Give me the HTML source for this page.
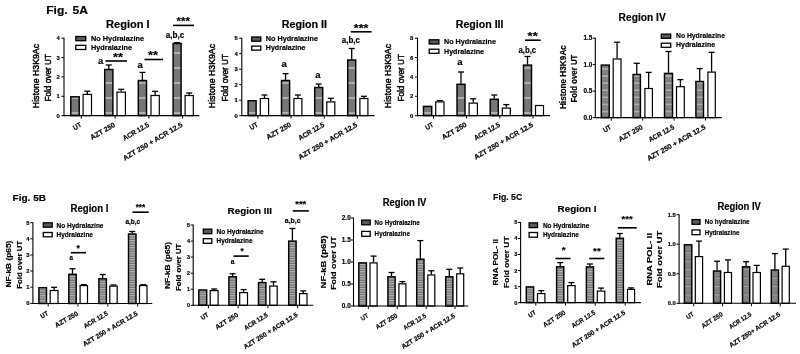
<!DOCTYPE html>
<html><head><meta charset="utf-8"><title>Fig 5</title>
<style>html,body{margin:0;padding:0;background:#fff;}svg{display:block;font-family:"Liberation Sans",sans-serif;fill:#000;}text{stroke:#000;stroke-width:0.18px;}</style>
</head><body>
<svg width="800" height="354" viewBox="0 0 800 354">
<defs>
<pattern id="p1" width="10" height="15" patternUnits="userSpaceOnUse"><rect width="10" height="15" fill="#777"/><rect y="7" width="10" height="2" fill="#a0a0a0"/><rect y="7.6" width="10" height="0.8" fill="#c4c4c4"/></pattern>
<pattern id="p2" width="10" height="2.4" patternUnits="userSpaceOnUse"><rect width="10" height="2.4" fill="#707070"/><rect y="0" width="10" height="1.15" fill="#b6b6b6"/></pattern>
<pattern id="p4" width="10" height="8.4" patternUnits="userSpaceOnUse" patternTransform="translate(0 0.5)"><rect width="10" height="8.4" fill="#787878"/><rect y="0" width="10" height="1.1" fill="#a6a6a6"/><rect y="2.4" width="10" height="1" fill="#8e8e8e"/><rect y="4.8" width="10" height="1" fill="#8e8e8e"/></pattern>
<pattern id="p3" width="10" height="7.1" patternUnits="userSpaceOnUse" patternTransform="translate(0 1.5)"><rect width="10" height="7.1" fill="#7e7e7e"/><rect y="3" width="10" height="1.2" fill="#c0c0c0"/><rect y="6.4" width="10" height="0.7" fill="#909090"/></pattern>
<filter id="soft" x="0" y="0" width="800" height="354" filterUnits="userSpaceOnUse" color-interpolation-filters="sRGB"><feGaussianBlur stdDeviation="0.48"/></filter>
</defs>
<rect width="800" height="354" fill="#fff"/>
<g filter="url(#soft)">
<rect x="70.80" y="96.80" width="8.40" height="18.80" fill="url(#p1)" stroke="#000" stroke-width="1.45"/>
<line x1="87.30" y1="93.90" x2="87.30" y2="91.20" stroke="#000" stroke-width="1.3"/>
<line x1="84.30" y1="91.20" x2="90.30" y2="91.20" stroke="#000" stroke-width="1.3"/>
<rect x="83.10" y="94.40" width="8.40" height="21.20" fill="#fff" stroke="#000" stroke-width="1.2"/>
<line x1="108.80" y1="69.00" x2="108.80" y2="65.00" stroke="#000" stroke-width="1.3"/>
<line x1="105.80" y1="65.00" x2="111.80" y2="65.00" stroke="#000" stroke-width="1.3"/>
<rect x="104.70" y="69.50" width="8.20" height="46.10" fill="url(#p1)" stroke="#000" stroke-width="1.45"/>
<line x1="121.20" y1="91.60" x2="121.20" y2="89.30" stroke="#000" stroke-width="1.3"/>
<line x1="118.20" y1="89.30" x2="124.20" y2="89.30" stroke="#000" stroke-width="1.3"/>
<rect x="117.00" y="92.10" width="8.40" height="23.50" fill="#fff" stroke="#000" stroke-width="1.2"/>
<line x1="142.40" y1="80.00" x2="142.40" y2="72.40" stroke="#000" stroke-width="1.3"/>
<line x1="139.40" y1="72.40" x2="145.40" y2="72.40" stroke="#000" stroke-width="1.3"/>
<rect x="138.30" y="80.50" width="8.20" height="35.10" fill="url(#p1)" stroke="#000" stroke-width="1.45"/>
<line x1="155.15" y1="95.00" x2="155.15" y2="91.30" stroke="#000" stroke-width="1.3"/>
<line x1="152.15" y1="91.30" x2="158.15" y2="91.30" stroke="#000" stroke-width="1.3"/>
<rect x="151.00" y="95.50" width="8.30" height="20.10" fill="#fff" stroke="#000" stroke-width="1.2"/>
<line x1="177.10" y1="43.00" x2="177.10" y2="42.60" stroke="#000" stroke-width="1.3"/>
<line x1="174.10" y1="42.60" x2="180.10" y2="42.60" stroke="#000" stroke-width="1.3"/>
<rect x="173.10" y="43.50" width="8.00" height="72.10" fill="url(#p1)" stroke="#000" stroke-width="1.45"/>
<line x1="189.20" y1="95.00" x2="189.20" y2="93.00" stroke="#000" stroke-width="1.3"/>
<line x1="186.20" y1="93.00" x2="192.20" y2="93.00" stroke="#000" stroke-width="1.3"/>
<rect x="185.10" y="95.50" width="8.20" height="20.10" fill="#fff" stroke="#000" stroke-width="1.2"/>
<line x1="64.00" y1="37.70" x2="64.00" y2="116.10" stroke="#000" stroke-width="1.1"/>
<line x1="63.50" y1="115.60" x2="199.30" y2="115.60" stroke="#000" stroke-width="1.1"/>
<line x1="61.40" y1="38.20" x2="64.00" y2="38.20" stroke="#000" stroke-width="1.0"/>
<text x="59.90" y="40.29" font-size="5.9" font-weight="bold" text-anchor="end">4</text>
<line x1="61.40" y1="57.60" x2="64.00" y2="57.60" stroke="#000" stroke-width="1.0"/>
<text x="59.90" y="59.69" font-size="5.9" font-weight="bold" text-anchor="end">3</text>
<line x1="61.40" y1="76.90" x2="64.00" y2="76.90" stroke="#000" stroke-width="1.0"/>
<text x="59.90" y="78.99" font-size="5.9" font-weight="bold" text-anchor="end">2</text>
<line x1="61.40" y1="96.30" x2="64.00" y2="96.30" stroke="#000" stroke-width="1.0"/>
<text x="59.90" y="98.39" font-size="5.9" font-weight="bold" text-anchor="end">1</text>
<line x1="61.40" y1="115.60" x2="64.00" y2="115.60" stroke="#000" stroke-width="1.0"/>
<text x="59.90" y="117.69" font-size="5.9" font-weight="bold" text-anchor="end">0</text>
<line x1="81.30" y1="115.60" x2="81.30" y2="118.60" stroke="#000" stroke-width="1.0"/>
<line x1="115.10" y1="115.60" x2="115.10" y2="118.60" stroke="#000" stroke-width="1.0"/>
<line x1="148.90" y1="115.60" x2="148.90" y2="118.60" stroke="#000" stroke-width="1.0"/>
<line x1="182.60" y1="115.60" x2="182.60" y2="118.60" stroke="#000" stroke-width="1.0"/>
<text x="0" y="0" transform="translate(80.70 124.00) rotate(-30.5)" font-size="7.1" font-weight="bold" text-anchor="end" textLength="8.40" lengthAdjust="spacingAndGlyphs" dy="0.35em">UT</text>
<text x="0" y="0" transform="translate(114.50 124.00) rotate(-30.5)" font-size="7.1" font-weight="bold" text-anchor="end" textLength="27.50" lengthAdjust="spacingAndGlyphs" dy="0.35em">AZT 250</text>
<text x="0" y="0" transform="translate(148.30 124.00) rotate(-30.5)" font-size="7.1" font-weight="bold" text-anchor="end" textLength="29.00" lengthAdjust="spacingAndGlyphs" dy="0.35em">ACR 12.5</text>
<text x="0" y="0" transform="translate(182.00 124.00) rotate(-30.5)" font-size="7.1" font-weight="bold" text-anchor="end" textLength="68.00" lengthAdjust="spacingAndGlyphs" dy="0.35em">AZT 250 + ACR 12.5</text>
<text x="106.10" y="28.40" font-size="10" font-weight="bold" text-anchor="start" textLength="43.60" lengthAdjust="spacingAndGlyphs">Region I</text>
<rect x="75.80" y="36.50" width="10.00" height="4.20" fill="#5a5a5a" stroke="#000" stroke-width="1.3"/>
<rect x="75.80" y="45.30" width="10.00" height="4.20" fill="#fff" stroke="#000" stroke-width="1.3"/>
<text x="91.00" y="40.94" font-size="6.5" font-weight="bold" text-anchor="start" textLength="53.00" lengthAdjust="spacingAndGlyphs">No Hydralazine</text>
<text x="91.00" y="49.74" font-size="6.5" font-weight="bold" text-anchor="start" textLength="41.00" lengthAdjust="spacingAndGlyphs">Hydralazine</text>
<text transform="translate(39.15 108.20) rotate(-90)" font-size="9.3" style="stroke-width:0.45px" textLength="64.30" lengthAdjust="spacingAndGlyphs">Histone H3K9Ac</text>
<text transform="translate(50.95 101.60) rotate(-90)" font-size="9.3" style="stroke-width:0.45px" textLength="47.70" lengthAdjust="spacingAndGlyphs">Fold over UT</text>
<line x1="105.50" y1="61.00" x2="127.00" y2="61.00" stroke="#000" stroke-width="1.6"/>
<text x="118.00" y="61.24" font-size="11" font-weight="bold" text-anchor="middle" textLength="10.00" lengthAdjust="spacingAndGlyphs">**</text>
<line x1="144.50" y1="59.50" x2="163.00" y2="59.50" stroke="#000" stroke-width="1.6"/>
<text x="153.00" y="59.24" font-size="11" font-weight="bold" text-anchor="middle" textLength="10.00" lengthAdjust="spacingAndGlyphs">**</text>
<line x1="173.00" y1="25.40" x2="194.00" y2="25.40" stroke="#000" stroke-width="1.6"/>
<text x="183.30" y="24.64" font-size="11" font-weight="bold" text-anchor="middle" textLength="13.40" lengthAdjust="spacingAndGlyphs">***</text>
<text x="98.00" y="64.30" font-size="9.4" font-weight="bold" text-anchor="start" textLength="5.30" lengthAdjust="spacingAndGlyphs">a</text>
<text x="137.50" y="68.30" font-size="9.4" font-weight="bold" text-anchor="start" textLength="5.30" lengthAdjust="spacingAndGlyphs">a</text>
<text x="165.80" y="37.70" font-size="8.3" font-weight="bold" text-anchor="start" textLength="18.60" lengthAdjust="spacingAndGlyphs">a,b,c</text>
<rect x="248.10" y="100.70" width="8.00" height="14.90" fill="url(#p1)" stroke="#000" stroke-width="1.45"/>
<line x1="264.45" y1="98.00" x2="264.45" y2="95.00" stroke="#000" stroke-width="1.3"/>
<line x1="261.45" y1="95.00" x2="267.45" y2="95.00" stroke="#000" stroke-width="1.3"/>
<rect x="260.30" y="98.50" width="8.30" height="17.10" fill="#fff" stroke="#000" stroke-width="1.2"/>
<line x1="285.55" y1="80.00" x2="285.55" y2="73.60" stroke="#000" stroke-width="1.3"/>
<line x1="282.55" y1="73.60" x2="288.55" y2="73.60" stroke="#000" stroke-width="1.3"/>
<rect x="281.50" y="80.50" width="8.10" height="35.10" fill="url(#p1)" stroke="#000" stroke-width="1.45"/>
<line x1="297.90" y1="98.00" x2="297.90" y2="95.00" stroke="#000" stroke-width="1.3"/>
<line x1="294.90" y1="95.00" x2="300.90" y2="95.00" stroke="#000" stroke-width="1.3"/>
<rect x="293.90" y="98.50" width="8.00" height="17.10" fill="#fff" stroke="#000" stroke-width="1.2"/>
<line x1="318.70" y1="87.00" x2="318.70" y2="84.00" stroke="#000" stroke-width="1.3"/>
<line x1="315.70" y1="84.00" x2="321.70" y2="84.00" stroke="#000" stroke-width="1.3"/>
<rect x="314.70" y="87.50" width="8.00" height="28.10" fill="url(#p1)" stroke="#000" stroke-width="1.45"/>
<line x1="330.80" y1="101.40" x2="330.80" y2="98.30" stroke="#000" stroke-width="1.3"/>
<line x1="327.80" y1="98.30" x2="333.80" y2="98.30" stroke="#000" stroke-width="1.3"/>
<rect x="326.80" y="101.90" width="8.00" height="13.70" fill="#fff" stroke="#000" stroke-width="1.2"/>
<line x1="351.70" y1="59.50" x2="351.70" y2="48.50" stroke="#000" stroke-width="1.3"/>
<line x1="348.70" y1="48.50" x2="354.70" y2="48.50" stroke="#000" stroke-width="1.3"/>
<rect x="347.70" y="60.00" width="8.00" height="55.60" fill="url(#p1)" stroke="#000" stroke-width="1.45"/>
<line x1="363.90" y1="98.00" x2="363.90" y2="96.30" stroke="#000" stroke-width="1.3"/>
<line x1="360.90" y1="96.30" x2="366.90" y2="96.30" stroke="#000" stroke-width="1.3"/>
<rect x="359.90" y="98.50" width="8.00" height="17.10" fill="#fff" stroke="#000" stroke-width="1.2"/>
<line x1="241.80" y1="37.70" x2="241.80" y2="116.10" stroke="#000" stroke-width="1.1"/>
<line x1="241.30" y1="115.60" x2="374.60" y2="115.60" stroke="#000" stroke-width="1.1"/>
<line x1="239.20" y1="38.20" x2="241.80" y2="38.20" stroke="#000" stroke-width="1.0"/>
<text x="237.70" y="40.29" font-size="5.9" font-weight="bold" text-anchor="end">5</text>
<line x1="239.20" y1="53.70" x2="241.80" y2="53.70" stroke="#000" stroke-width="1.0"/>
<text x="237.70" y="55.79" font-size="5.9" font-weight="bold" text-anchor="end">4</text>
<line x1="239.20" y1="69.20" x2="241.80" y2="69.20" stroke="#000" stroke-width="1.0"/>
<text x="237.70" y="71.29" font-size="5.9" font-weight="bold" text-anchor="end">3</text>
<line x1="239.20" y1="84.70" x2="241.80" y2="84.70" stroke="#000" stroke-width="1.0"/>
<text x="237.70" y="86.79" font-size="5.9" font-weight="bold" text-anchor="end">2</text>
<line x1="239.20" y1="100.20" x2="241.80" y2="100.20" stroke="#000" stroke-width="1.0"/>
<text x="237.70" y="102.29" font-size="5.9" font-weight="bold" text-anchor="end">1</text>
<line x1="239.20" y1="115.70" x2="241.80" y2="115.70" stroke="#000" stroke-width="1.0"/>
<text x="237.70" y="117.79" font-size="5.9" font-weight="bold" text-anchor="end">0</text>
<line x1="257.90" y1="115.60" x2="257.90" y2="118.60" stroke="#000" stroke-width="1.0"/>
<line x1="291.10" y1="115.60" x2="291.10" y2="118.60" stroke="#000" stroke-width="1.0"/>
<line x1="324.30" y1="115.60" x2="324.30" y2="118.60" stroke="#000" stroke-width="1.0"/>
<line x1="357.40" y1="115.60" x2="357.40" y2="118.60" stroke="#000" stroke-width="1.0"/>
<text x="0" y="0" transform="translate(257.30 124.00) rotate(-30)" font-size="7.1" font-weight="bold" text-anchor="end" textLength="8.40" lengthAdjust="spacingAndGlyphs" dy="0.35em">UT</text>
<text x="0" y="0" transform="translate(290.50 124.00) rotate(-30)" font-size="7.1" font-weight="bold" text-anchor="end" textLength="27.30" lengthAdjust="spacingAndGlyphs" dy="0.35em">AZT 250</text>
<text x="0" y="0" transform="translate(323.70 124.00) rotate(-30)" font-size="7.1" font-weight="bold" text-anchor="end" textLength="28.70" lengthAdjust="spacingAndGlyphs" dy="0.35em">ACR 12.5</text>
<text x="0" y="0" transform="translate(356.80 124.00) rotate(-30)" font-size="7.1" font-weight="bold" text-anchor="end" textLength="67.00" lengthAdjust="spacingAndGlyphs" dy="0.35em">AZT 250 + ACR 12.5</text>
<text x="281.70" y="28.40" font-size="10" font-weight="bold" text-anchor="start" textLength="45.30" lengthAdjust="spacingAndGlyphs">Region II</text>
<rect x="251.70" y="37.00" width="9.10" height="4.20" fill="#5a5a5a" stroke="#000" stroke-width="1.3"/>
<rect x="251.70" y="46.10" width="9.10" height="4.00" fill="#fff" stroke="#000" stroke-width="1.3"/>
<text x="265.80" y="41.44" font-size="6.5" font-weight="bold" text-anchor="start" textLength="52.20" lengthAdjust="spacingAndGlyphs">No Hydralazine</text>
<text x="265.80" y="50.44" font-size="6.5" font-weight="bold" text-anchor="start" textLength="39.70" lengthAdjust="spacingAndGlyphs">Hydralazine</text>
<text transform="translate(215.15 108.20) rotate(-90)" font-size="9.3" style="stroke-width:0.45px" textLength="64.30" lengthAdjust="spacingAndGlyphs">Histone H3K9Ac</text>
<text transform="translate(227.85 101.60) rotate(-90)" font-size="9.3" style="stroke-width:0.45px" textLength="47.70" lengthAdjust="spacingAndGlyphs">Fold over UT</text>
<line x1="350.80" y1="31.80" x2="371.60" y2="31.80" stroke="#000" stroke-width="1.6"/>
<text x="361.05" y="31.74" font-size="11" font-weight="bold" text-anchor="middle" textLength="14.50" lengthAdjust="spacingAndGlyphs">***</text>
<text x="281.60" y="67.40" font-size="9.4" font-weight="bold" text-anchor="start" textLength="5.30" lengthAdjust="spacingAndGlyphs">a</text>
<text x="315.20" y="78.10" font-size="9.4" font-weight="bold" text-anchor="start" textLength="5.30" lengthAdjust="spacingAndGlyphs">a</text>
<text x="341.80" y="43.10" font-size="8.3" font-weight="bold" text-anchor="start" textLength="18.10" lengthAdjust="spacingAndGlyphs">a,b,c</text>
<rect x="423.50" y="106.40" width="8.20" height="9.20" fill="url(#p1)" stroke="#000" stroke-width="1.45"/>
<line x1="439.85" y1="101.40" x2="439.85" y2="100.60" stroke="#000" stroke-width="1.3"/>
<line x1="436.85" y1="100.60" x2="442.85" y2="100.60" stroke="#000" stroke-width="1.3"/>
<rect x="435.70" y="101.90" width="8.30" height="13.70" fill="#fff" stroke="#000" stroke-width="1.2"/>
<line x1="461.00" y1="83.80" x2="461.00" y2="72.00" stroke="#000" stroke-width="1.3"/>
<line x1="458.00" y1="72.00" x2="464.00" y2="72.00" stroke="#000" stroke-width="1.3"/>
<rect x="457.00" y="84.30" width="8.00" height="31.30" fill="url(#p1)" stroke="#000" stroke-width="1.45"/>
<line x1="473.25" y1="102.60" x2="473.25" y2="98.80" stroke="#000" stroke-width="1.3"/>
<line x1="470.25" y1="98.80" x2="476.25" y2="98.80" stroke="#000" stroke-width="1.3"/>
<rect x="469.10" y="103.10" width="8.30" height="12.50" fill="#fff" stroke="#000" stroke-width="1.2"/>
<line x1="494.25" y1="98.80" x2="494.25" y2="95.00" stroke="#000" stroke-width="1.3"/>
<line x1="491.25" y1="95.00" x2="497.25" y2="95.00" stroke="#000" stroke-width="1.3"/>
<rect x="490.20" y="99.30" width="8.10" height="16.30" fill="url(#p1)" stroke="#000" stroke-width="1.45"/>
<line x1="506.30" y1="107.60" x2="506.30" y2="104.60" stroke="#000" stroke-width="1.3"/>
<line x1="503.30" y1="104.60" x2="509.30" y2="104.60" stroke="#000" stroke-width="1.3"/>
<rect x="502.30" y="108.10" width="8.00" height="7.50" fill="#fff" stroke="#000" stroke-width="1.2"/>
<line x1="527.50" y1="64.60" x2="527.50" y2="56.50" stroke="#000" stroke-width="1.3"/>
<line x1="524.50" y1="56.50" x2="530.50" y2="56.50" stroke="#000" stroke-width="1.3"/>
<rect x="523.50" y="65.10" width="8.00" height="50.50" fill="url(#p1)" stroke="#000" stroke-width="1.45"/>
<rect x="535.50" y="105.50" width="8.00" height="10.10" fill="#fff" stroke="#000" stroke-width="1.2"/>
<line x1="417.50" y1="37.70" x2="417.50" y2="116.10" stroke="#000" stroke-width="1.1"/>
<line x1="417.00" y1="115.60" x2="550.00" y2="115.60" stroke="#000" stroke-width="1.1"/>
<line x1="414.90" y1="38.20" x2="417.50" y2="38.20" stroke="#000" stroke-width="1.0"/>
<text x="413.40" y="40.29" font-size="5.9" font-weight="bold" text-anchor="end">8</text>
<line x1="414.90" y1="57.60" x2="417.50" y2="57.60" stroke="#000" stroke-width="1.0"/>
<text x="413.40" y="59.69" font-size="5.9" font-weight="bold" text-anchor="end">6</text>
<line x1="414.90" y1="77.00" x2="417.50" y2="77.00" stroke="#000" stroke-width="1.0"/>
<text x="413.40" y="79.09" font-size="5.9" font-weight="bold" text-anchor="end">4</text>
<line x1="414.90" y1="96.30" x2="417.50" y2="96.30" stroke="#000" stroke-width="1.0"/>
<text x="413.40" y="98.39" font-size="5.9" font-weight="bold" text-anchor="end">2</text>
<line x1="414.90" y1="115.70" x2="417.50" y2="115.70" stroke="#000" stroke-width="1.0"/>
<text x="413.40" y="117.79" font-size="5.9" font-weight="bold" text-anchor="end">0</text>
<line x1="433.50" y1="115.60" x2="433.50" y2="118.60" stroke="#000" stroke-width="1.0"/>
<line x1="466.60" y1="115.60" x2="466.60" y2="118.60" stroke="#000" stroke-width="1.0"/>
<line x1="499.90" y1="115.60" x2="499.90" y2="118.60" stroke="#000" stroke-width="1.0"/>
<line x1="533.10" y1="115.60" x2="533.10" y2="118.60" stroke="#000" stroke-width="1.0"/>
<text x="0" y="0" transform="translate(432.90 124.00) rotate(-30)" font-size="7.1" font-weight="bold" text-anchor="end" textLength="8.40" lengthAdjust="spacingAndGlyphs" dy="0.35em">UT</text>
<text x="0" y="0" transform="translate(466.00 124.00) rotate(-30)" font-size="7.1" font-weight="bold" text-anchor="end" textLength="27.30" lengthAdjust="spacingAndGlyphs" dy="0.35em">AZT 250</text>
<text x="0" y="0" transform="translate(499.30 124.00) rotate(-30)" font-size="7.1" font-weight="bold" text-anchor="end" textLength="28.70" lengthAdjust="spacingAndGlyphs" dy="0.35em">ACR 12.5</text>
<text x="0" y="0" transform="translate(532.50 124.00) rotate(-30)" font-size="7.1" font-weight="bold" text-anchor="end" textLength="67.00" lengthAdjust="spacingAndGlyphs" dy="0.35em">AZT 250 + ACR 12.5</text>
<text x="455.80" y="28.40" font-size="10" font-weight="bold" text-anchor="start" textLength="47.70" lengthAdjust="spacingAndGlyphs">Region III</text>
<rect x="429.20" y="39.80" width="9.70" height="4.20" fill="#5a5a5a" stroke="#000" stroke-width="1.3"/>
<rect x="429.20" y="49.20" width="9.70" height="4.10" fill="#fff" stroke="#000" stroke-width="1.3"/>
<text x="444.00" y="44.24" font-size="6.5" font-weight="bold" text-anchor="start" textLength="52.00" lengthAdjust="spacingAndGlyphs">No Hydralazine</text>
<text x="444.00" y="53.59" font-size="6.5" font-weight="bold" text-anchor="start" textLength="40.00" lengthAdjust="spacingAndGlyphs">Hydralazine</text>
<text transform="translate(391.25 108.20) rotate(-90)" font-size="9.3" style="stroke-width:0.45px" textLength="64.30" lengthAdjust="spacingAndGlyphs">Histone H3K9Ac</text>
<text transform="translate(403.55 101.60) rotate(-90)" font-size="9.3" style="stroke-width:0.45px" textLength="47.70" lengthAdjust="spacingAndGlyphs">Fold over UT</text>
<line x1="525.00" y1="40.20" x2="540.70" y2="40.20" stroke="#000" stroke-width="1.6"/>
<text x="532.65" y="40.14" font-size="11" font-weight="bold" text-anchor="middle" textLength="10.10" lengthAdjust="spacingAndGlyphs">**</text>
<text x="457.30" y="64.90" font-size="9.4" font-weight="bold" text-anchor="start" textLength="5.30" lengthAdjust="spacingAndGlyphs">a</text>
<text x="518.40" y="52.70" font-size="8.3" font-weight="bold" text-anchor="start" textLength="17.80" lengthAdjust="spacingAndGlyphs">a,b,c</text>
<rect x="601.30" y="65.10" width="7.90" height="52.50" fill="url(#p3)" stroke="#000" stroke-width="1.45"/>
<line x1="617.10" y1="58.50" x2="617.10" y2="42.20" stroke="#000" stroke-width="1.3"/>
<line x1="614.10" y1="42.20" x2="620.10" y2="42.20" stroke="#000" stroke-width="1.3"/>
<rect x="613.20" y="59.00" width="7.80" height="58.60" fill="#fff" stroke="#000" stroke-width="1.2"/>
<line x1="636.75" y1="74.00" x2="636.75" y2="63.30" stroke="#000" stroke-width="1.3"/>
<line x1="633.75" y1="63.30" x2="639.75" y2="63.30" stroke="#000" stroke-width="1.3"/>
<rect x="633.10" y="74.50" width="7.30" height="43.10" fill="url(#p3)" stroke="#000" stroke-width="1.45"/>
<line x1="648.65" y1="88.00" x2="648.65" y2="72.40" stroke="#000" stroke-width="1.3"/>
<line x1="645.65" y1="72.40" x2="651.65" y2="72.40" stroke="#000" stroke-width="1.3"/>
<rect x="644.90" y="88.50" width="7.50" height="29.10" fill="#fff" stroke="#000" stroke-width="1.2"/>
<line x1="668.50" y1="72.90" x2="668.50" y2="51.50" stroke="#000" stroke-width="1.3"/>
<line x1="665.50" y1="51.50" x2="671.50" y2="51.50" stroke="#000" stroke-width="1.3"/>
<rect x="664.50" y="73.40" width="8.00" height="44.20" fill="url(#p3)" stroke="#000" stroke-width="1.45"/>
<line x1="680.40" y1="86.20" x2="680.40" y2="79.60" stroke="#000" stroke-width="1.3"/>
<line x1="677.40" y1="79.60" x2="683.40" y2="79.60" stroke="#000" stroke-width="1.3"/>
<rect x="676.50" y="86.70" width="7.80" height="30.90" fill="#fff" stroke="#000" stroke-width="1.2"/>
<line x1="699.70" y1="81.00" x2="699.70" y2="68.60" stroke="#000" stroke-width="1.3"/>
<line x1="696.70" y1="68.60" x2="702.70" y2="68.60" stroke="#000" stroke-width="1.3"/>
<rect x="695.90" y="81.50" width="7.60" height="36.10" fill="url(#p3)" stroke="#000" stroke-width="1.45"/>
<line x1="711.60" y1="71.60" x2="711.60" y2="52.30" stroke="#000" stroke-width="1.3"/>
<line x1="708.60" y1="52.30" x2="714.60" y2="52.30" stroke="#000" stroke-width="1.3"/>
<rect x="707.90" y="72.10" width="7.40" height="45.50" fill="#fff" stroke="#000" stroke-width="1.2"/>
<line x1="595.30" y1="37.70" x2="595.30" y2="118.10" stroke="#000" stroke-width="1.1"/>
<line x1="594.80" y1="117.60" x2="721.90" y2="117.60" stroke="#000" stroke-width="1.1"/>
<line x1="592.70" y1="38.20" x2="595.30" y2="38.20" stroke="#000" stroke-width="1.0"/>
<text x="592.40" y="40.47" font-size="6.4" font-weight="bold" text-anchor="end">1.5</text>
<line x1="592.70" y1="64.60" x2="595.30" y2="64.60" stroke="#000" stroke-width="1.0"/>
<text x="592.40" y="66.87" font-size="6.4" font-weight="bold" text-anchor="end">1.0</text>
<line x1="592.70" y1="91.10" x2="595.30" y2="91.10" stroke="#000" stroke-width="1.0"/>
<text x="592.40" y="93.37" font-size="6.4" font-weight="bold" text-anchor="end">0.5</text>
<line x1="592.70" y1="117.60" x2="595.30" y2="117.60" stroke="#000" stroke-width="1.0"/>
<text x="592.40" y="119.87" font-size="6.4" font-weight="bold" text-anchor="end">0.0</text>
<line x1="611.30" y1="117.60" x2="611.30" y2="120.60" stroke="#000" stroke-width="1.0"/>
<line x1="642.70" y1="117.60" x2="642.70" y2="120.60" stroke="#000" stroke-width="1.0"/>
<line x1="674.10" y1="117.60" x2="674.10" y2="120.60" stroke="#000" stroke-width="1.0"/>
<line x1="705.50" y1="117.60" x2="705.50" y2="120.60" stroke="#000" stroke-width="1.0"/>
<text x="0" y="0" transform="translate(610.70 126.40) rotate(-29.5)" font-size="7.1" font-weight="bold" text-anchor="end" textLength="8.30" lengthAdjust="spacingAndGlyphs" dy="0.35em">UT</text>
<text x="0" y="0" transform="translate(642.10 126.40) rotate(-29.5)" font-size="7.1" font-weight="bold" text-anchor="end" textLength="26.50" lengthAdjust="spacingAndGlyphs" dy="0.35em">AZT 250</text>
<text x="0" y="0" transform="translate(673.50 126.40) rotate(-29.5)" font-size="7.1" font-weight="bold" text-anchor="end" textLength="28.00" lengthAdjust="spacingAndGlyphs" dy="0.35em">ACR 12.5</text>
<text x="0" y="0" transform="translate(704.90 126.40) rotate(-29.5)" font-size="7.1" font-weight="bold" text-anchor="end" textLength="66.00" lengthAdjust="spacingAndGlyphs" dy="0.35em">AZT 250 + ACR 12.5</text>
<text x="618.60" y="20.50" font-size="10.7" font-weight="bold" text-anchor="start" textLength="47.20" lengthAdjust="spacingAndGlyphs">Region IV</text>
<rect x="661.30" y="34.10" width="9.40" height="4.20" fill="#5a5a5a" stroke="#000" stroke-width="1.3"/>
<rect x="661.30" y="43.20" width="9.40" height="4.10" fill="#fff" stroke="#000" stroke-width="1.3"/>
<text x="676.00" y="38.11" font-size="6.7" font-weight="bold" text-anchor="start" textLength="49.00" lengthAdjust="spacingAndGlyphs">No Hydralazine</text>
<text x="676.00" y="47.16" font-size="6.7" font-weight="bold" text-anchor="start" textLength="39.00" lengthAdjust="spacingAndGlyphs">Hydralazine</text>
<text transform="translate(565.93 109.10) rotate(-90)" font-size="8.7" font-weight="bold" textLength="64.00" lengthAdjust="spacingAndGlyphs">Histone H3K9Ac</text>
<text transform="translate(577.33 102.50) rotate(-90)" font-size="8.7" font-weight="bold" textLength="47.90" lengthAdjust="spacingAndGlyphs">Fold over UT</text>
<rect x="38.90" y="287.70" width="7.60" height="15.80" fill="url(#p2)" stroke="#000" stroke-width="1.45"/>
<line x1="54.10" y1="290.00" x2="54.10" y2="287.30" stroke="#000" stroke-width="1.3"/>
<line x1="51.10" y1="287.30" x2="57.10" y2="287.30" stroke="#000" stroke-width="1.3"/>
<rect x="50.20" y="290.50" width="7.80" height="13.00" fill="#fff" stroke="#000" stroke-width="1.2"/>
<line x1="72.50" y1="273.80" x2="72.50" y2="268.80" stroke="#000" stroke-width="1.3"/>
<line x1="69.50" y1="268.80" x2="75.50" y2="268.80" stroke="#000" stroke-width="1.3"/>
<rect x="68.80" y="274.30" width="7.40" height="29.20" fill="url(#p2)" stroke="#000" stroke-width="1.45"/>
<line x1="83.80" y1="285.10" x2="83.80" y2="284.60" stroke="#000" stroke-width="1.3"/>
<line x1="80.80" y1="284.60" x2="86.80" y2="284.60" stroke="#000" stroke-width="1.3"/>
<rect x="80.10" y="285.60" width="7.40" height="17.90" fill="#fff" stroke="#000" stroke-width="1.2"/>
<line x1="102.65" y1="278.30" x2="102.65" y2="274.50" stroke="#000" stroke-width="1.3"/>
<line x1="99.65" y1="274.50" x2="105.65" y2="274.50" stroke="#000" stroke-width="1.3"/>
<rect x="98.90" y="278.80" width="7.50" height="24.70" fill="url(#p2)" stroke="#000" stroke-width="1.45"/>
<line x1="113.50" y1="285.60" x2="113.50" y2="285.00" stroke="#000" stroke-width="1.3"/>
<line x1="110.50" y1="285.00" x2="116.50" y2="285.00" stroke="#000" stroke-width="1.3"/>
<rect x="109.80" y="286.10" width="7.40" height="17.40" fill="#fff" stroke="#000" stroke-width="1.2"/>
<line x1="132.25" y1="233.50" x2="132.25" y2="231.50" stroke="#000" stroke-width="1.3"/>
<line x1="129.25" y1="231.50" x2="135.25" y2="231.50" stroke="#000" stroke-width="1.3"/>
<rect x="128.50" y="234.00" width="7.50" height="69.50" fill="url(#p2)" stroke="#000" stroke-width="1.45"/>
<line x1="143.25" y1="285.10" x2="143.25" y2="284.70" stroke="#000" stroke-width="1.3"/>
<line x1="140.25" y1="284.70" x2="146.25" y2="284.70" stroke="#000" stroke-width="1.3"/>
<rect x="139.50" y="285.60" width="7.50" height="17.90" fill="#fff" stroke="#000" stroke-width="1.2"/>
<line x1="32.90" y1="222.20" x2="32.90" y2="304.00" stroke="#000" stroke-width="1.1"/>
<line x1="32.40" y1="303.50" x2="152.30" y2="303.50" stroke="#000" stroke-width="1.1"/>
<line x1="30.30" y1="222.70" x2="32.90" y2="222.70" stroke="#000" stroke-width="1.0"/>
<text x="29.60" y="224.76" font-size="5.8" font-weight="bold" text-anchor="end">5</text>
<line x1="30.30" y1="238.80" x2="32.90" y2="238.80" stroke="#000" stroke-width="1.0"/>
<text x="29.60" y="240.86" font-size="5.8" font-weight="bold" text-anchor="end">4</text>
<line x1="30.30" y1="255.00" x2="32.90" y2="255.00" stroke="#000" stroke-width="1.0"/>
<text x="29.60" y="257.06" font-size="5.8" font-weight="bold" text-anchor="end">3</text>
<line x1="30.30" y1="271.10" x2="32.90" y2="271.10" stroke="#000" stroke-width="1.0"/>
<text x="29.60" y="273.16" font-size="5.8" font-weight="bold" text-anchor="end">2</text>
<line x1="30.30" y1="287.20" x2="32.90" y2="287.20" stroke="#000" stroke-width="1.0"/>
<text x="29.60" y="289.26" font-size="5.8" font-weight="bold" text-anchor="end">1</text>
<line x1="30.30" y1="303.40" x2="32.90" y2="303.40" stroke="#000" stroke-width="1.0"/>
<text x="29.60" y="305.46" font-size="5.8" font-weight="bold" text-anchor="end">0</text>
<line x1="48.20" y1="303.50" x2="48.20" y2="306.50" stroke="#000" stroke-width="1.0"/>
<line x1="78.00" y1="303.50" x2="78.00" y2="306.50" stroke="#000" stroke-width="1.0"/>
<line x1="107.90" y1="303.50" x2="107.90" y2="306.50" stroke="#000" stroke-width="1.0"/>
<line x1="137.70" y1="303.50" x2="137.70" y2="306.50" stroke="#000" stroke-width="1.0"/>
<text x="0" y="0" transform="translate(47.60 312.80) rotate(-30.5)" font-size="6.6" font-weight="bold" text-anchor="end" textLength="7.80" lengthAdjust="spacingAndGlyphs" dy="0.35em">UT</text>
<text x="0" y="0" transform="translate(77.40 312.80) rotate(-30.5)" font-size="6.6" font-weight="bold" text-anchor="end" textLength="25.50" lengthAdjust="spacingAndGlyphs" dy="0.35em">AZT 250</text>
<text x="0" y="0" transform="translate(107.30 312.80) rotate(-30.5)" font-size="6.6" font-weight="bold" text-anchor="end" textLength="27.00" lengthAdjust="spacingAndGlyphs" dy="0.35em">ACR 12.5</text>
<text x="0" y="0" transform="translate(137.10 312.80) rotate(-30.5)" font-size="6.6" font-weight="bold" text-anchor="end" textLength="62.50" lengthAdjust="spacingAndGlyphs" dy="0.35em">AZT 250 + ACR 12.5</text>
<text x="70.50" y="212.10" font-size="10" font-weight="bold" text-anchor="start" textLength="38.00" lengthAdjust="spacingAndGlyphs">Region I</text>
<rect x="43.30" y="222.80" width="8.90" height="4.40" fill="#5a5a5a" stroke="#000" stroke-width="1.3"/>
<rect x="43.30" y="232.50" width="8.90" height="4.30" fill="#fff" stroke="#000" stroke-width="1.3"/>
<text x="56.50" y="227.77" font-size="6.3" font-weight="bold" text-anchor="start" textLength="47.00" lengthAdjust="spacingAndGlyphs">No Hydralazine</text>
<text x="56.50" y="237.42" font-size="6.3" font-weight="bold" text-anchor="start" textLength="36.50" lengthAdjust="spacingAndGlyphs">Hydralazine</text>
<text transform="translate(10.86 287.50) rotate(-90)" font-size="7.4" font-weight="bold" textLength="46.90" lengthAdjust="spacingAndGlyphs">NF-kB (p65)</text>
<text transform="translate(21.76 288.80) rotate(-90)" font-size="7.4" font-weight="bold" textLength="48.10" lengthAdjust="spacingAndGlyphs">Fold over UT</text>
<line x1="132.40" y1="212.20" x2="148.70" y2="212.20" stroke="#000" stroke-width="1.6"/>
<text x="140.45" y="210.13" font-size="8.2" font-weight="bold" text-anchor="middle" textLength="9.50" lengthAdjust="spacingAndGlyphs">***</text>
<line x1="70.90" y1="252.70" x2="86.00" y2="252.70" stroke="#000" stroke-width="1.6"/>
<text x="78.30" y="250.53" font-size="8.2" font-weight="bold" text-anchor="middle" textLength="3.40" lengthAdjust="spacingAndGlyphs">*</text>
<text x="69.60" y="259.90" font-size="6.3" font-weight="bold" text-anchor="start" textLength="3.50" lengthAdjust="spacingAndGlyphs">a</text>
<text x="125.40" y="223.50" font-size="6.3" font-weight="bold" text-anchor="start" textLength="14.80" lengthAdjust="spacingAndGlyphs">a,b,c</text>
<rect x="198.80" y="290.00" width="7.90" height="15.30" fill="url(#p2)" stroke="#000" stroke-width="1.45"/>
<line x1="214.15" y1="290.10" x2="214.15" y2="289.00" stroke="#000" stroke-width="1.3"/>
<line x1="211.15" y1="289.00" x2="217.15" y2="289.00" stroke="#000" stroke-width="1.3"/>
<rect x="210.20" y="290.60" width="7.90" height="14.70" fill="#fff" stroke="#000" stroke-width="1.2"/>
<line x1="232.60" y1="276.30" x2="232.60" y2="273.80" stroke="#000" stroke-width="1.3"/>
<line x1="229.60" y1="273.80" x2="235.60" y2="273.80" stroke="#000" stroke-width="1.3"/>
<rect x="228.90" y="276.80" width="7.40" height="28.50" fill="url(#p2)" stroke="#000" stroke-width="1.45"/>
<line x1="243.60" y1="292.10" x2="243.60" y2="289.60" stroke="#000" stroke-width="1.3"/>
<line x1="240.60" y1="289.60" x2="246.60" y2="289.60" stroke="#000" stroke-width="1.3"/>
<rect x="239.70" y="292.60" width="7.80" height="12.70" fill="#fff" stroke="#000" stroke-width="1.2"/>
<line x1="262.20" y1="282.10" x2="262.20" y2="279.30" stroke="#000" stroke-width="1.3"/>
<line x1="259.20" y1="279.30" x2="265.20" y2="279.30" stroke="#000" stroke-width="1.3"/>
<rect x="258.50" y="282.60" width="7.40" height="22.70" fill="url(#p2)" stroke="#000" stroke-width="1.45"/>
<line x1="273.50" y1="285.60" x2="273.50" y2="281.80" stroke="#000" stroke-width="1.3"/>
<line x1="270.50" y1="281.80" x2="276.50" y2="281.80" stroke="#000" stroke-width="1.3"/>
<rect x="269.80" y="286.10" width="7.40" height="19.20" fill="#fff" stroke="#000" stroke-width="1.2"/>
<line x1="292.40" y1="240.60" x2="292.40" y2="228.50" stroke="#000" stroke-width="1.3"/>
<line x1="289.40" y1="228.50" x2="295.40" y2="228.50" stroke="#000" stroke-width="1.3"/>
<rect x="288.70" y="241.10" width="7.40" height="64.20" fill="url(#p2)" stroke="#000" stroke-width="1.45"/>
<line x1="303.25" y1="293.10" x2="303.25" y2="290.90" stroke="#000" stroke-width="1.3"/>
<line x1="300.25" y1="290.90" x2="306.25" y2="290.90" stroke="#000" stroke-width="1.3"/>
<rect x="299.50" y="293.60" width="7.50" height="11.70" fill="#fff" stroke="#000" stroke-width="1.2"/>
<line x1="193.20" y1="224.50" x2="193.20" y2="305.80" stroke="#000" stroke-width="1.1"/>
<line x1="192.70" y1="305.30" x2="313.30" y2="305.30" stroke="#000" stroke-width="1.1"/>
<line x1="190.60" y1="225.00" x2="193.20" y2="225.00" stroke="#000" stroke-width="1.0"/>
<text x="190.00" y="226.92" font-size="5.4" font-weight="bold" text-anchor="end">5</text>
<line x1="190.60" y1="241.10" x2="193.20" y2="241.10" stroke="#000" stroke-width="1.0"/>
<text x="190.00" y="243.02" font-size="5.4" font-weight="bold" text-anchor="end">4</text>
<line x1="190.60" y1="257.10" x2="193.20" y2="257.10" stroke="#000" stroke-width="1.0"/>
<text x="190.00" y="259.02" font-size="5.4" font-weight="bold" text-anchor="end">3</text>
<line x1="190.60" y1="273.20" x2="193.20" y2="273.20" stroke="#000" stroke-width="1.0"/>
<text x="190.00" y="275.12" font-size="5.4" font-weight="bold" text-anchor="end">2</text>
<line x1="190.60" y1="289.20" x2="193.20" y2="289.20" stroke="#000" stroke-width="1.0"/>
<text x="190.00" y="291.12" font-size="5.4" font-weight="bold" text-anchor="end">1</text>
<line x1="190.60" y1="305.30" x2="193.20" y2="305.30" stroke="#000" stroke-width="1.0"/>
<text x="190.00" y="307.22" font-size="5.4" font-weight="bold" text-anchor="end">0</text>
<line x1="208.40" y1="305.30" x2="208.40" y2="308.30" stroke="#000" stroke-width="1.0"/>
<line x1="238.10" y1="305.30" x2="238.10" y2="308.30" stroke="#000" stroke-width="1.0"/>
<line x1="267.90" y1="305.30" x2="267.90" y2="308.30" stroke="#000" stroke-width="1.0"/>
<line x1="297.70" y1="305.30" x2="297.70" y2="308.30" stroke="#000" stroke-width="1.0"/>
<text x="0" y="0" transform="translate(207.80 314.20) rotate(-32)" font-size="6.6" font-weight="bold" text-anchor="end" textLength="7.80" lengthAdjust="spacingAndGlyphs" dy="0.35em">UT</text>
<text x="0" y="0" transform="translate(237.50 314.20) rotate(-32)" font-size="6.6" font-weight="bold" text-anchor="end" textLength="25.50" lengthAdjust="spacingAndGlyphs" dy="0.35em">AZT 250</text>
<text x="0" y="0" transform="translate(267.30 314.20) rotate(-32)" font-size="6.6" font-weight="bold" text-anchor="end" textLength="27.00" lengthAdjust="spacingAndGlyphs" dy="0.35em">ACR 12.5</text>
<text x="0" y="0" transform="translate(297.10 314.20) rotate(-32)" font-size="6.6" font-weight="bold" text-anchor="end" textLength="62.50" lengthAdjust="spacingAndGlyphs" dy="0.35em">AZT 250 + ACR 12.5</text>
<text x="227.60" y="214.10" font-size="9.4" font-weight="bold" text-anchor="start" textLength="44.30" lengthAdjust="spacingAndGlyphs">Region III</text>
<rect x="203.30" y="229.10" width="8.50" height="4.60" fill="#5a5a5a" stroke="#000" stroke-width="1.3"/>
<rect x="203.30" y="238.70" width="8.50" height="4.60" fill="#fff" stroke="#000" stroke-width="1.3"/>
<text x="216.60" y="233.67" font-size="6.3" font-weight="bold" text-anchor="start" textLength="47.00" lengthAdjust="spacingAndGlyphs">No Hydralazine</text>
<text x="216.60" y="243.27" font-size="6.3" font-weight="bold" text-anchor="start" textLength="36.00" lengthAdjust="spacingAndGlyphs">Hydralazine</text>
<text transform="translate(170.46 289.00) rotate(-90)" font-size="7.4" font-weight="bold" textLength="47.00" lengthAdjust="spacingAndGlyphs">NF-kB (p65)</text>
<text transform="translate(181.26 291.00) rotate(-90)" font-size="7.4" font-weight="bold" textLength="47.30" lengthAdjust="spacingAndGlyphs">Fold over UT</text>
<line x1="292.70" y1="210.90" x2="308.80" y2="210.90" stroke="#000" stroke-width="1.6"/>
<text x="300.75" y="206.73" font-size="8.2" font-weight="bold" text-anchor="middle" textLength="11.10" lengthAdjust="spacingAndGlyphs">***</text>
<line x1="233.40" y1="256.10" x2="248.70" y2="256.10" stroke="#000" stroke-width="1.6"/>
<text x="242.10" y="254.43" font-size="8.2" font-weight="bold" text-anchor="middle" textLength="3.20" lengthAdjust="spacingAndGlyphs">*</text>
<text x="230.70" y="263.60" font-size="6.3" font-weight="bold" text-anchor="start" textLength="3.70" lengthAdjust="spacingAndGlyphs">a</text>
<text x="284.80" y="222.80" font-size="6.3" font-weight="bold" text-anchor="start" textLength="15.70" lengthAdjust="spacingAndGlyphs">a,b,c</text>
<rect x="358.80" y="262.90" width="7.60" height="43.10" fill="url(#p2)" stroke="#000" stroke-width="1.45"/>
<line x1="373.55" y1="262.40" x2="373.55" y2="256.10" stroke="#000" stroke-width="1.3"/>
<line x1="370.55" y1="256.10" x2="376.55" y2="256.10" stroke="#000" stroke-width="1.3"/>
<rect x="370.00" y="262.90" width="7.10" height="43.10" fill="#fff" stroke="#000" stroke-width="1.2"/>
<line x1="391.50" y1="276.30" x2="391.50" y2="272.50" stroke="#000" stroke-width="1.3"/>
<line x1="388.50" y1="272.50" x2="394.50" y2="272.50" stroke="#000" stroke-width="1.3"/>
<rect x="387.90" y="276.80" width="7.20" height="29.20" fill="url(#p2)" stroke="#000" stroke-width="1.45"/>
<line x1="402.40" y1="283.30" x2="402.40" y2="281.60" stroke="#000" stroke-width="1.3"/>
<line x1="399.40" y1="281.60" x2="405.40" y2="281.60" stroke="#000" stroke-width="1.3"/>
<rect x="398.90" y="283.80" width="7.00" height="22.20" fill="#fff" stroke="#000" stroke-width="1.2"/>
<line x1="420.35" y1="258.70" x2="420.35" y2="240.60" stroke="#000" stroke-width="1.3"/>
<line x1="417.35" y1="240.60" x2="423.35" y2="240.60" stroke="#000" stroke-width="1.3"/>
<rect x="416.70" y="259.20" width="7.30" height="46.80" fill="url(#p2)" stroke="#000" stroke-width="1.45"/>
<line x1="431.30" y1="274.50" x2="431.30" y2="270.80" stroke="#000" stroke-width="1.3"/>
<line x1="428.30" y1="270.80" x2="434.30" y2="270.80" stroke="#000" stroke-width="1.3"/>
<rect x="427.80" y="275.00" width="7.00" height="31.00" fill="#fff" stroke="#000" stroke-width="1.2"/>
<line x1="449.30" y1="276.30" x2="449.30" y2="269.30" stroke="#000" stroke-width="1.3"/>
<line x1="446.30" y1="269.30" x2="452.30" y2="269.30" stroke="#000" stroke-width="1.3"/>
<rect x="445.70" y="276.80" width="7.20" height="29.20" fill="url(#p2)" stroke="#000" stroke-width="1.45"/>
<line x1="460.20" y1="273.30" x2="460.20" y2="268.00" stroke="#000" stroke-width="1.3"/>
<line x1="457.20" y1="268.00" x2="463.20" y2="268.00" stroke="#000" stroke-width="1.3"/>
<rect x="456.70" y="273.80" width="7.00" height="32.20" fill="#fff" stroke="#000" stroke-width="1.2"/>
<line x1="353.50" y1="217.50" x2="353.50" y2="306.50" stroke="#000" stroke-width="1.1"/>
<line x1="353.00" y1="306.00" x2="468.30" y2="306.00" stroke="#000" stroke-width="1.1"/>
<line x1="350.90" y1="218.00" x2="353.50" y2="218.00" stroke="#000" stroke-width="1.0"/>
<text x="350.70" y="220.27" font-size="6.4" font-weight="bold" text-anchor="end">2.0</text>
<line x1="350.90" y1="240.00" x2="353.50" y2="240.00" stroke="#000" stroke-width="1.0"/>
<text x="350.70" y="242.27" font-size="6.4" font-weight="bold" text-anchor="end">1.5</text>
<line x1="350.90" y1="262.00" x2="353.50" y2="262.00" stroke="#000" stroke-width="1.0"/>
<text x="350.70" y="264.27" font-size="6.4" font-weight="bold" text-anchor="end">1.0</text>
<line x1="350.90" y1="284.00" x2="353.50" y2="284.00" stroke="#000" stroke-width="1.0"/>
<text x="350.70" y="286.27" font-size="6.4" font-weight="bold" text-anchor="end">0.5</text>
<line x1="350.90" y1="306.00" x2="353.50" y2="306.00" stroke="#000" stroke-width="1.0"/>
<text x="350.70" y="308.27" font-size="6.4" font-weight="bold" text-anchor="end">0.0</text>
<line x1="368.30" y1="306.00" x2="368.30" y2="309.00" stroke="#000" stroke-width="1.0"/>
<line x1="397.20" y1="306.00" x2="397.20" y2="309.00" stroke="#000" stroke-width="1.0"/>
<line x1="426.10" y1="306.00" x2="426.10" y2="309.00" stroke="#000" stroke-width="1.0"/>
<line x1="455.00" y1="306.00" x2="455.00" y2="309.00" stroke="#000" stroke-width="1.0"/>
<text x="0" y="0" transform="translate(367.70 315.00) rotate(-31.5)" font-size="6.6" font-weight="bold" text-anchor="end" textLength="7.50" lengthAdjust="spacingAndGlyphs" dy="0.35em">UT</text>
<text x="0" y="0" transform="translate(396.60 315.00) rotate(-31.5)" font-size="6.6" font-weight="bold" text-anchor="end" textLength="24.00" lengthAdjust="spacingAndGlyphs" dy="0.35em">AZT 250</text>
<text x="0" y="0" transform="translate(425.50 315.00) rotate(-31.5)" font-size="6.6" font-weight="bold" text-anchor="end" textLength="25.50" lengthAdjust="spacingAndGlyphs" dy="0.35em">ACR 12.5</text>
<text x="0" y="0" transform="translate(454.40 315.00) rotate(-31.5)" font-size="6.6" font-weight="bold" text-anchor="end" textLength="61.50" lengthAdjust="spacingAndGlyphs" dy="0.35em">AZT 250 + ACR 12.5</text>
<text x="382.70" y="205.80" font-size="11" font-weight="bold" text-anchor="start" textLength="43.70" lengthAdjust="spacingAndGlyphs">Region IV</text>
<rect x="361.70" y="220.10" width="8.50" height="4.70" fill="#5a5a5a" stroke="#000" stroke-width="1.3"/>
<rect x="361.70" y="231.40" width="8.50" height="4.90" fill="#fff" stroke="#000" stroke-width="1.3"/>
<text x="374.60" y="224.97" font-size="7" font-weight="bold" text-anchor="start" textLength="45.20" lengthAdjust="spacingAndGlyphs">No Hydralazine</text>
<text x="374.60" y="236.37" font-size="7" font-weight="bold" text-anchor="start" textLength="35.30" lengthAdjust="spacingAndGlyphs">Hydralazine</text>
<text transform="translate(325.54 288.40) rotate(-90)" font-size="7.6" font-weight="bold" textLength="53.10" lengthAdjust="spacingAndGlyphs">NF-kB (p65)</text>
<text transform="translate(336.34 289.80) rotate(-90)" font-size="7.6" font-weight="bold" textLength="53.50" lengthAdjust="spacingAndGlyphs">Fold over UT</text>
<rect x="526.30" y="286.90" width="7.30" height="15.70" fill="url(#p2)" stroke="#000" stroke-width="1.45"/>
<line x1="541.20" y1="293.10" x2="541.20" y2="290.60" stroke="#000" stroke-width="1.3"/>
<line x1="538.20" y1="290.60" x2="544.20" y2="290.60" stroke="#000" stroke-width="1.3"/>
<rect x="537.50" y="293.60" width="7.40" height="9.00" fill="#fff" stroke="#000" stroke-width="1.2"/>
<line x1="560.20" y1="266.30" x2="560.20" y2="262.60" stroke="#000" stroke-width="1.3"/>
<line x1="557.20" y1="262.60" x2="563.20" y2="262.60" stroke="#000" stroke-width="1.3"/>
<rect x="556.60" y="266.80" width="7.20" height="35.80" fill="url(#p2)" stroke="#000" stroke-width="1.45"/>
<line x1="571.40" y1="285.10" x2="571.40" y2="282.60" stroke="#000" stroke-width="1.3"/>
<line x1="568.40" y1="282.60" x2="574.40" y2="282.60" stroke="#000" stroke-width="1.3"/>
<rect x="567.70" y="285.60" width="7.40" height="17.00" fill="#fff" stroke="#000" stroke-width="1.2"/>
<line x1="589.95" y1="266.40" x2="589.95" y2="264.00" stroke="#000" stroke-width="1.3"/>
<line x1="586.95" y1="264.00" x2="592.95" y2="264.00" stroke="#000" stroke-width="1.3"/>
<rect x="586.40" y="266.90" width="7.10" height="35.70" fill="url(#p2)" stroke="#000" stroke-width="1.45"/>
<line x1="601.05" y1="290.60" x2="601.05" y2="288.10" stroke="#000" stroke-width="1.3"/>
<line x1="598.05" y1="288.10" x2="604.05" y2="288.10" stroke="#000" stroke-width="1.3"/>
<rect x="597.30" y="291.10" width="7.50" height="11.50" fill="#fff" stroke="#000" stroke-width="1.2"/>
<line x1="619.80" y1="237.80" x2="619.80" y2="233.50" stroke="#000" stroke-width="1.3"/>
<line x1="616.80" y1="233.50" x2="622.80" y2="233.50" stroke="#000" stroke-width="1.3"/>
<rect x="616.20" y="238.30" width="7.20" height="64.30" fill="url(#p2)" stroke="#000" stroke-width="1.45"/>
<line x1="631.05" y1="288.90" x2="631.05" y2="287.90" stroke="#000" stroke-width="1.3"/>
<line x1="628.05" y1="287.90" x2="634.05" y2="287.90" stroke="#000" stroke-width="1.3"/>
<rect x="627.50" y="289.40" width="7.10" height="13.20" fill="#fff" stroke="#000" stroke-width="1.2"/>
<line x1="520.60" y1="221.90" x2="520.60" y2="303.10" stroke="#000" stroke-width="1.1"/>
<line x1="520.10" y1="302.60" x2="640.90" y2="302.60" stroke="#000" stroke-width="1.1"/>
<line x1="518.00" y1="222.40" x2="520.60" y2="222.40" stroke="#000" stroke-width="1.0"/>
<text x="517.40" y="224.39" font-size="5.6" font-weight="bold" text-anchor="end">5</text>
<line x1="518.00" y1="238.50" x2="520.60" y2="238.50" stroke="#000" stroke-width="1.0"/>
<text x="517.40" y="240.49" font-size="5.6" font-weight="bold" text-anchor="end">4</text>
<line x1="518.00" y1="254.50" x2="520.60" y2="254.50" stroke="#000" stroke-width="1.0"/>
<text x="517.40" y="256.49" font-size="5.6" font-weight="bold" text-anchor="end">3</text>
<line x1="518.00" y1="270.60" x2="520.60" y2="270.60" stroke="#000" stroke-width="1.0"/>
<text x="517.40" y="272.59" font-size="5.6" font-weight="bold" text-anchor="end">2</text>
<line x1="518.00" y1="286.60" x2="520.60" y2="286.60" stroke="#000" stroke-width="1.0"/>
<text x="517.40" y="288.59" font-size="5.6" font-weight="bold" text-anchor="end">1</text>
<line x1="518.00" y1="302.70" x2="520.60" y2="302.70" stroke="#000" stroke-width="1.0"/>
<text x="517.40" y="304.69" font-size="5.6" font-weight="bold" text-anchor="end">0</text>
<line x1="535.80" y1="302.60" x2="535.80" y2="305.60" stroke="#000" stroke-width="1.0"/>
<line x1="565.50" y1="302.60" x2="565.50" y2="305.60" stroke="#000" stroke-width="1.0"/>
<line x1="595.20" y1="302.60" x2="595.20" y2="305.60" stroke="#000" stroke-width="1.0"/>
<line x1="625.20" y1="302.60" x2="625.20" y2="305.60" stroke="#000" stroke-width="1.0"/>
<text x="0" y="0" transform="translate(535.20 311.70) rotate(-33)" font-size="6.6" font-weight="bold" text-anchor="end" textLength="7.80" lengthAdjust="spacingAndGlyphs" dy="0.35em">UT</text>
<text x="0" y="0" transform="translate(564.90 311.70) rotate(-33)" font-size="6.6" font-weight="bold" text-anchor="end" textLength="25.50" lengthAdjust="spacingAndGlyphs" dy="0.35em">AZT 250</text>
<text x="0" y="0" transform="translate(594.60 311.70) rotate(-33)" font-size="6.6" font-weight="bold" text-anchor="end" textLength="27.00" lengthAdjust="spacingAndGlyphs" dy="0.35em">ACR 12.5</text>
<text x="0" y="0" transform="translate(624.60 311.70) rotate(-33)" font-size="6.6" font-weight="bold" text-anchor="end" textLength="62.50" lengthAdjust="spacingAndGlyphs" dy="0.35em">AZT 250 + ACR 12.5</text>
<text x="557.60" y="212.10" font-size="9.5" font-weight="bold" text-anchor="start" textLength="38.80" lengthAdjust="spacingAndGlyphs">Region I</text>
<rect x="529.10" y="222.90" width="8.40" height="4.70" fill="#5a5a5a" stroke="#000" stroke-width="1.3"/>
<rect x="529.10" y="232.50" width="8.40" height="4.70" fill="#fff" stroke="#000" stroke-width="1.3"/>
<text x="542.90" y="227.52" font-size="6.3" font-weight="bold" text-anchor="start" textLength="46.40" lengthAdjust="spacingAndGlyphs">No Hydralazine</text>
<text x="542.90" y="237.12" font-size="6.3" font-weight="bold" text-anchor="start" textLength="36.00" lengthAdjust="spacingAndGlyphs">Hydralazine</text>
<text transform="translate(498.01 285.50) rotate(-90)" font-size="7.8" font-weight="bold" textLength="46.50" lengthAdjust="spacingAndGlyphs">RNA POL- II</text>
<text transform="translate(508.51 287.90) rotate(-90)" font-size="7.8" font-weight="bold" textLength="51.50" lengthAdjust="spacingAndGlyphs">Fold over UT</text>
<line x1="617.80" y1="227.80" x2="636.80" y2="227.80" stroke="#000" stroke-width="1.6"/>
<text x="627.05" y="221.83" font-size="8.2" font-weight="bold" text-anchor="middle" textLength="11.10" lengthAdjust="spacingAndGlyphs">***</text>
<line x1="555.40" y1="258.50" x2="570.50" y2="258.50" stroke="#000" stroke-width="1.6"/>
<text x="563.60" y="253.13" font-size="8.2" font-weight="bold" text-anchor="middle" textLength="3.80" lengthAdjust="spacingAndGlyphs">*</text>
<line x1="589.30" y1="258.50" x2="604.40" y2="258.50" stroke="#000" stroke-width="1.6"/>
<text x="596.90" y="253.63" font-size="8.2" font-weight="bold" text-anchor="middle" textLength="7.60" lengthAdjust="spacingAndGlyphs">**</text>
<rect x="684.40" y="244.80" width="7.40" height="58.50" fill="url(#p4)" stroke="#000" stroke-width="1.45"/>
<line x1="698.95" y1="256.10" x2="698.95" y2="241.10" stroke="#000" stroke-width="1.3"/>
<line x1="695.95" y1="241.10" x2="701.95" y2="241.10" stroke="#000" stroke-width="1.3"/>
<rect x="695.30" y="256.60" width="7.30" height="46.70" fill="#fff" stroke="#000" stroke-width="1.2"/>
<line x1="717.05" y1="270.50" x2="717.05" y2="261.20" stroke="#000" stroke-width="1.3"/>
<line x1="714.05" y1="261.20" x2="720.05" y2="261.20" stroke="#000" stroke-width="1.3"/>
<rect x="713.50" y="271.00" width="7.10" height="32.30" fill="url(#p4)" stroke="#000" stroke-width="1.45"/>
<line x1="727.95" y1="272.00" x2="727.95" y2="259.90" stroke="#000" stroke-width="1.3"/>
<line x1="724.95" y1="259.90" x2="730.95" y2="259.90" stroke="#000" stroke-width="1.3"/>
<rect x="724.40" y="272.50" width="7.10" height="30.80" fill="#fff" stroke="#000" stroke-width="1.2"/>
<line x1="746.10" y1="266.30" x2="746.10" y2="261.70" stroke="#000" stroke-width="1.3"/>
<line x1="743.10" y1="261.70" x2="749.10" y2="261.70" stroke="#000" stroke-width="1.3"/>
<rect x="742.50" y="266.80" width="7.20" height="36.50" fill="url(#p4)" stroke="#000" stroke-width="1.45"/>
<line x1="756.70" y1="272.00" x2="756.70" y2="265.40" stroke="#000" stroke-width="1.3"/>
<line x1="753.70" y1="265.40" x2="759.70" y2="265.40" stroke="#000" stroke-width="1.3"/>
<rect x="753.00" y="272.50" width="7.40" height="30.80" fill="#fff" stroke="#000" stroke-width="1.2"/>
<line x1="774.90" y1="269.50" x2="774.90" y2="253.60" stroke="#000" stroke-width="1.3"/>
<line x1="771.90" y1="253.60" x2="777.90" y2="253.60" stroke="#000" stroke-width="1.3"/>
<rect x="771.30" y="270.00" width="7.20" height="33.30" fill="url(#p4)" stroke="#000" stroke-width="1.45"/>
<line x1="785.70" y1="265.80" x2="785.70" y2="249.10" stroke="#000" stroke-width="1.3"/>
<line x1="782.70" y1="249.10" x2="788.70" y2="249.10" stroke="#000" stroke-width="1.3"/>
<rect x="782.10" y="266.30" width="7.20" height="37.00" fill="#fff" stroke="#000" stroke-width="1.2"/>
<line x1="679.10" y1="214.20" x2="679.10" y2="303.80" stroke="#000" stroke-width="1.1"/>
<line x1="678.60" y1="303.30" x2="796.00" y2="303.30" stroke="#000" stroke-width="1.1"/>
<line x1="676.50" y1="214.70" x2="679.10" y2="214.70" stroke="#000" stroke-width="1.0"/>
<text x="675.80" y="216.76" font-size="5.8" font-weight="bold" text-anchor="end">1.5</text>
<line x1="676.50" y1="244.20" x2="679.10" y2="244.20" stroke="#000" stroke-width="1.0"/>
<text x="675.80" y="246.26" font-size="5.8" font-weight="bold" text-anchor="end">1.0</text>
<line x1="676.50" y1="273.80" x2="679.10" y2="273.80" stroke="#000" stroke-width="1.0"/>
<text x="675.80" y="275.86" font-size="5.8" font-weight="bold" text-anchor="end">0.5</text>
<line x1="676.50" y1="303.30" x2="679.10" y2="303.30" stroke="#000" stroke-width="1.0"/>
<text x="675.80" y="305.36" font-size="5.8" font-weight="bold" text-anchor="end">0.0</text>
<line x1="693.70" y1="303.30" x2="693.70" y2="306.30" stroke="#000" stroke-width="1.0"/>
<line x1="722.60" y1="303.30" x2="722.60" y2="306.30" stroke="#000" stroke-width="1.0"/>
<line x1="751.40" y1="303.30" x2="751.40" y2="306.30" stroke="#000" stroke-width="1.0"/>
<line x1="780.20" y1="303.30" x2="780.20" y2="306.30" stroke="#000" stroke-width="1.0"/>
<text x="0" y="0" transform="translate(693.10 313.50) rotate(-33)" font-size="6.6" font-weight="bold" text-anchor="end" textLength="7.50" lengthAdjust="spacingAndGlyphs" dy="0.35em">UT</text>
<text x="0" y="0" transform="translate(722.00 313.50) rotate(-33)" font-size="6.6" font-weight="bold" text-anchor="end" textLength="24.00" lengthAdjust="spacingAndGlyphs" dy="0.35em">AZT 250</text>
<text x="0" y="0" transform="translate(750.80 313.50) rotate(-33)" font-size="6.6" font-weight="bold" text-anchor="end" textLength="25.50" lengthAdjust="spacingAndGlyphs" dy="0.35em">ACR 12.5</text>
<text x="0" y="0" transform="translate(779.60 313.50) rotate(-33)" font-size="6.6" font-weight="bold" text-anchor="end" textLength="59.50" lengthAdjust="spacingAndGlyphs" dy="0.35em">AZT 250+ ACR 12.5</text>
<text x="717.40" y="209.50" font-size="10" font-weight="bold" text-anchor="start" textLength="43.40" lengthAdjust="spacingAndGlyphs">Region IV</text>
<rect x="692.00" y="219.60" width="8.00" height="4.70" fill="#5a5a5a" stroke="#000" stroke-width="1.3"/>
<rect x="692.00" y="229.90" width="8.00" height="4.80" fill="#fff" stroke="#000" stroke-width="1.3"/>
<text x="704.70" y="224.29" font-size="6.5" font-weight="bold" text-anchor="start" textLength="44.80" lengthAdjust="spacingAndGlyphs">No hydralazine</text>
<text x="704.70" y="234.64" font-size="6.5" font-weight="bold" text-anchor="start" textLength="34.70" lengthAdjust="spacingAndGlyphs">Hydralazine</text>
<text transform="translate(651.51 285.40) rotate(-90)" font-size="7.8" font-weight="bold" textLength="52.40" lengthAdjust="spacingAndGlyphs">RNA POL- II</text>
<text transform="translate(662.01 288.00) rotate(-90)" font-size="7.8" font-weight="bold" textLength="57.20" lengthAdjust="spacingAndGlyphs">Fold over UT</text>
<text x="46.20" y="14.40" font-size="11.8" font-weight="bold" text-anchor="start" textLength="41.80" lengthAdjust="spacingAndGlyphs" word-spacing="1.6">Fig. 5A</text>
<text x="12.60" y="200.60" font-size="9.8" font-weight="bold" text-anchor="start" textLength="33.40" lengthAdjust="spacingAndGlyphs">Fig. 5B</text>
<text x="493.10" y="199.90" font-size="9.8" font-weight="bold" text-anchor="start" textLength="29.20" lengthAdjust="spacingAndGlyphs">Fig. 5C</text>
</g>
</svg></body></html>
